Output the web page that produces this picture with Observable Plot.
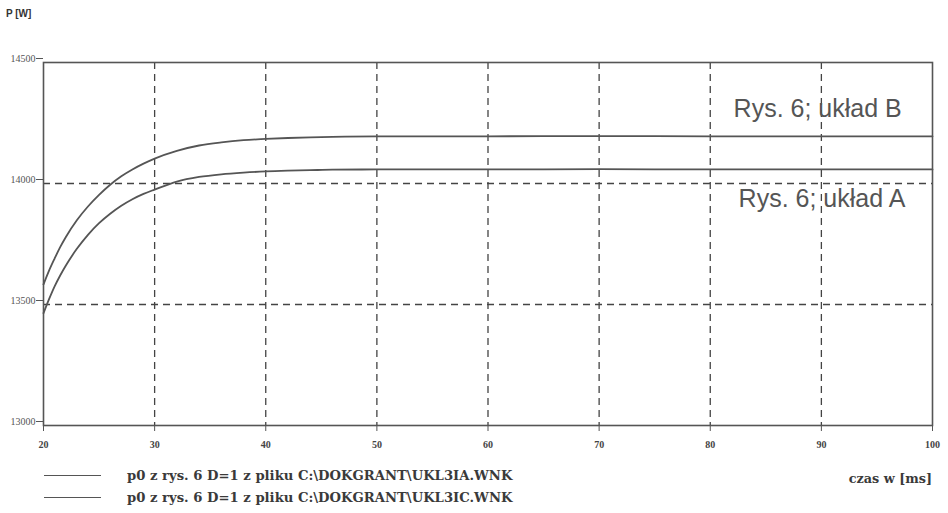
<!DOCTYPE html>
<html>
<head>
<meta charset="utf-8">
<script src="https://cdn.jsdelivr.net/npm/d3@7"></script>
<script src="https://cdn.jsdelivr.net/npm/@observablehq/plot@0.6"></script>
<style>
  html, body { margin: 0; padding: 0; background: #fff; }
  #wrap { position: relative; width: 948px; height: 513px; overflow: hidden; }
  #wrap svg { position: absolute; left: 0; top: 0; overflow: visible; }
  .ov { position: absolute; white-space: nowrap; color: #333; }
  .ylab { left: 6px; top: 8px; font: bold 10px "Liberation Sans", Arial, sans-serif; }
  .leg { left: 127px; font: bold 13.2px "DejaVu Serif", serif; color: #3a3a3a; }
  .swatch { position: absolute; left: 44px; width: 57px; height: 0; border-top: 1.6px solid #555; }
  .xlab { right: 16px; top: 471px; font: bold 12.8px "DejaVu Serif", serif; color: #3a3a3a; }
</style>
</head>
<body>
<div id="wrap">
  <div class="ov ylab">P [W]</div>
  <div class="swatch" style="top:475px"></div>
  <div class="swatch" style="top:497px"></div>
  <div class="ov leg" style="top:468px">p0 z rys. 6 D=1 z pliku C:\DOKGRANT\UKL3IA.WNK</div>
  <div class="ov leg" style="top:490px">p0 z rys. 6 D=1 z pliku C:\DOKGRANT\UKL3IC.WNK</div>
  <div class="ov xlab">czas w [ms]</div>
</div>
<script>
// time [ms]
const time = [20, 20.5, 21, 21.5, 22, 23, 24, 25, 26, 27, 28, 29, 30, 32, 34, 36, 38, 40, 42, 44, 46, 50, 60, 70, 80, 90, 100];
// P [W], Rys. 6; układ B (upper curve)
const ukladB = [13583, 13640, 13690, 13737, 13778, 13848, 13905, 13953, 13995, 14030, 14058, 14082, 14103, 14135, 14157, 14170, 14179, 14184, 14188, 14191, 14193, 14195, 14195, 14196, 14195, 14195, 14195];
// P [W], Rys. 6; układ A (lower curve)
const ukladA = [13464, 13522, 13575, 13620, 13660, 13730, 13788, 13836, 13875, 13908, 13935, 13957, 13975, 14008, 14027, 14038, 14045, 14050, 14053, 14055, 14057, 14058, 14058, 14059, 14058, 14058, 14058];

const xTicks = [20, 30, 40, 50, 60, 70, 80, 90, 100];
const yTicks = [13000, 13500, 14000, 14500];
const xGrid = [30, 40, 50, 60, 70, 80, 90];
const yGrid = [13500, 14000];

const labels = [
  {text: "Rys. 6; układ B", x: 82.1, y: 14309},
  {text: "Rys. 6; układ A", x: 82.55, y: 13936}
];

const rowsB = time.map((t, i) => ({t, p: ukladB[i]}));
const rowsA = time.map((t, i) => ({t, p: ukladA[i]}));

const chart = Plot.plot({
  width: 948,
  height: 513,
  marginLeft: 43,
  marginRight: 16,
  marginTop: 62,
  marginBottom: 88,
  x: {domain: [20, 100]},
  y: {domain: [13000, 14500]},
  style: {background: "transparent"},
  marks: [
    Plot.ruleX(xGrid, {stroke: "#444", strokeWidth: 1.3, strokeDasharray: "7,5"}),
    Plot.ruleY(yGrid, {stroke: "#444", strokeWidth: 1.3, strokeDasharray: "7,5"}),
    Plot.line(rowsB, {x: "t", y: "p", curve: "monotone-x", stroke: "#555", strokeWidth: 1.8}),
    Plot.line(rowsA, {x: "t", y: "p", curve: "monotone-x", stroke: "#555", strokeWidth: 1.8}),
    Plot.frame({stroke: "#555", strokeWidth: 1.6}),
    Plot.axisX({ticks: xTicks, tickSize: 6, tickPadding: 9, stroke: "#555", fill: "#444",
      fontSize: 10, fontFamily: "Liberation Serif", fontWeight: "bold", label: null}),
    Plot.axisY({ticks: yTicks, tickSize: 7, tickPadding: 1, dy: -4, stroke: "#555", fill: "#555",
      fontSize: 10, fontFamily: "Liberation Serif", tickFormat: d => String(d), label: null}),
    Plot.text(labels, {x: "x", y: "y", text: "text", textAnchor: "start", fontSize: 25,
      fontFamily: "Liberation Sans", fill: "#555"})
  ]
});
document.getElementById("wrap").prepend(chart);
</script>
</body>
</html>
